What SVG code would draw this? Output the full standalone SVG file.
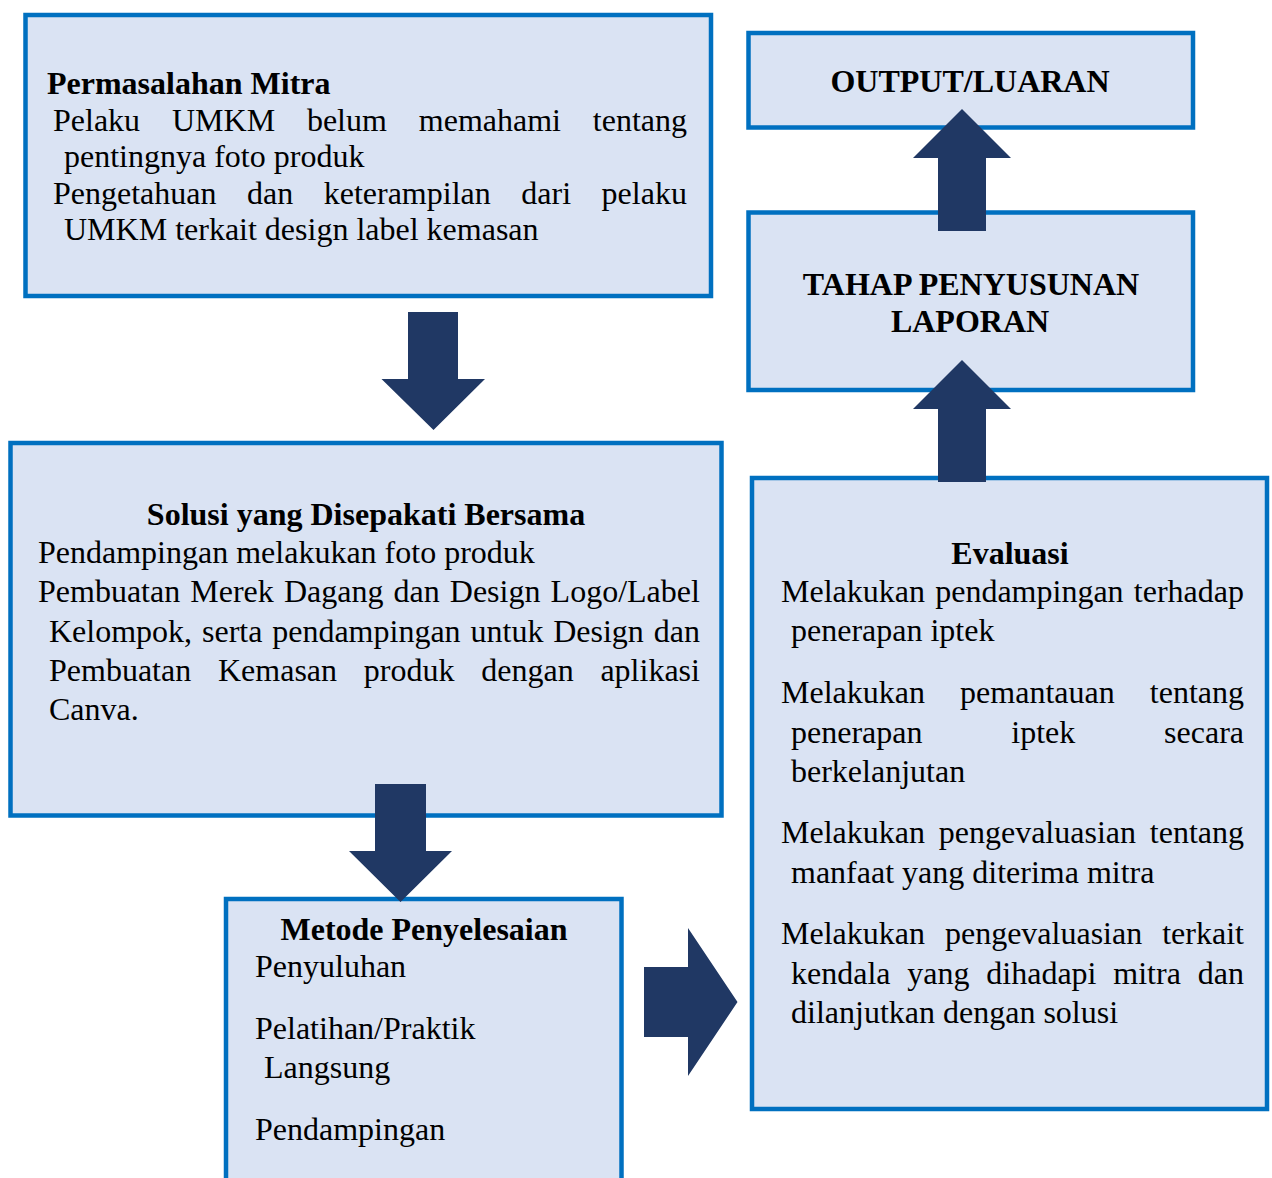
<svg xmlns="http://www.w3.org/2000/svg" width="1272" height="1178" viewBox="0 0 1272 1178">
<style>
.box{fill:#DAE3F3;stroke:#0070C0;stroke-width:4.5}
.arr{fill:#203864}
text{font-family:"Liberation Serif","Times New Roman",serif;font-size:32px;fill:#000}
.b{font-weight:bold}
.m{text-anchor:middle}
</style>
<rect width="1272" height="1178" fill="#fff"/>
<g id="permasalahan">
<rect class="box" x="25.5" y="15" width="685.5" height="281"/>
<text class="b" x="47" y="94">Permasalahan Mitra</text>
<text y="130.5"><tspan x="53">Pelaku</tspan><tspan x="172">UMKM</tspan><tspan x="306.9">belum</tspan><tspan x="418.8">memahami</tspan><tspan x="592.8">tentang</tspan></text>
<text x="64" y="167">pentingnya foto produk</text>
<text y="203.5"><tspan x="53">Pengetahuan</tspan><tspan x="247">dan</tspan><tspan x="323.7">keterampilan</tspan><tspan x="521.3">dari</tspan><tspan x="601.6">pelaku</tspan></text>
<text x="64" y="240">UMKM terkait design label kemasan</text>
</g>
<g id="solusi">
<rect class="box" x="10.5" y="443" width="711" height="372.5"/>
<text class="b m" x="366" y="525">Solusi yang Disepakati Bersama</text>
<text x="38" y="563.3">Pendampingan melakukan foto produk</text>
<text y="601.7"><tspan x="38">Pembuatan</tspan><tspan x="190.3">Merek</tspan><tspan x="283.9">Dagang</tspan><tspan x="393.5">dan</tspan><tspan x="449.8">Design</tspan><tspan x="550.6">Logo/Label</tspan></text>
<text y="641.5"><tspan x="49">Kelompok,</tspan><tspan x="202">serta</tspan><tspan x="272.2">pendampingan</tspan><tspan x="470.5">untuk</tspan><tspan x="553.2">Design</tspan><tspan x="653.8">dan</tspan></text>
<text y="680.5"><tspan x="49">Pembuatan</tspan><tspan x="218">Kemasan</tspan><tspan x="363.8">produk</tspan><tspan x="481.3">dengan</tspan><tspan x="600.4">aplikasi</tspan></text>
<text x="49" y="720">Canva.</text>
</g>
<g id="metode">
<rect class="box" x="226" y="899" width="395.5" height="310"/>
<text class="b m" x="424" y="940">Metode Penyelesaian</text>
<text x="255" y="977">Penyuluhan</text>
<text x="255" y="1038.5">Pelatihan/Praktik</text>
<text x="264" y="1078">Langsung</text>
<text x="255" y="1139.5">Pendampingan</text>
</g>
<g id="evaluasi">
<rect class="box" x="752" y="478" width="515" height="631"/>
<text class="b m" x="1010" y="564">Evaluasi</text>
<text y="602"><tspan x="781">Melakukan</tspan><tspan x="935.2">pendampingan</tspan><tspan x="1133.8">terhadap</tspan></text>
<text x="791" y="641">penerapan iptek</text>
<text y="703"><tspan x="781">Melakukan</tspan><tspan x="960.1">pemantauan</tspan><tspan x="1149.8">tentang</tspan></text>
<text y="742.5"><tspan x="791">penerapan</tspan><tspan x="1011.3">iptek</tspan><tspan x="1164.1">secara</tspan></text>
<text x="791" y="782">berkelanjutan</text>
<text y="843"><tspan x="781">Melakukan</tspan><tspan x="938.75">pengevaluasian</tspan><tspan x="1149.8">tentang</tspan></text>
<text x="791" y="882.5">manfaat yang diterima mitra</text>
<text y="944"><tspan x="781">Melakukan</tspan><tspan x="944.95">pengevaluasian</tspan><tspan x="1162.2">terkait</tspan></text>
<text y="983.5"><tspan x="791">kendala</tspan><tspan x="907.3">yang</tspan><tspan x="986.3">dihadapi</tspan><tspan x="1113.3">mitra</tspan><tspan x="1197.7">dan</tspan></text>
<text x="791" y="1023">dilanjutkan dengan solusi</text>
</g>
<g id="tahap">
<rect class="box" x="748.5" y="212.5" width="444.5" height="177.5"/>
<text class="b m" x="971" y="295">TAHAP PENYUSUNAN</text>
<text class="b m" x="970" y="331.5">LAPORAN</text>
</g>
<g id="output">
<rect class="box" x="748.5" y="33" width="444.5" height="94.5"/>
<text class="b m" x="970" y="91.5">OUTPUT/LUARAN</text>
</g>
<g id="connectors">
<polygon class="arr" points="408,312 458,312 458,379 485,379 433.5,430 381.5,379 408,379"/>
<polygon class="arr" points="375,784 426,784 426,851 452,851 400.5,902 349,851 375,851"/>
<polygon class="arr" points="644,967 688,967 688,928 737.5,1002 688,1076 688,1037 644,1037"/>
<polygon class="arr" points="938,482 986,482 986,409 1011,409 962,360 913,409 938,409"/>
<polygon class="arr" points="938,231 986,231 986,158 1011,158 962,109 913,158 938,158"/>
</g>
</svg>
